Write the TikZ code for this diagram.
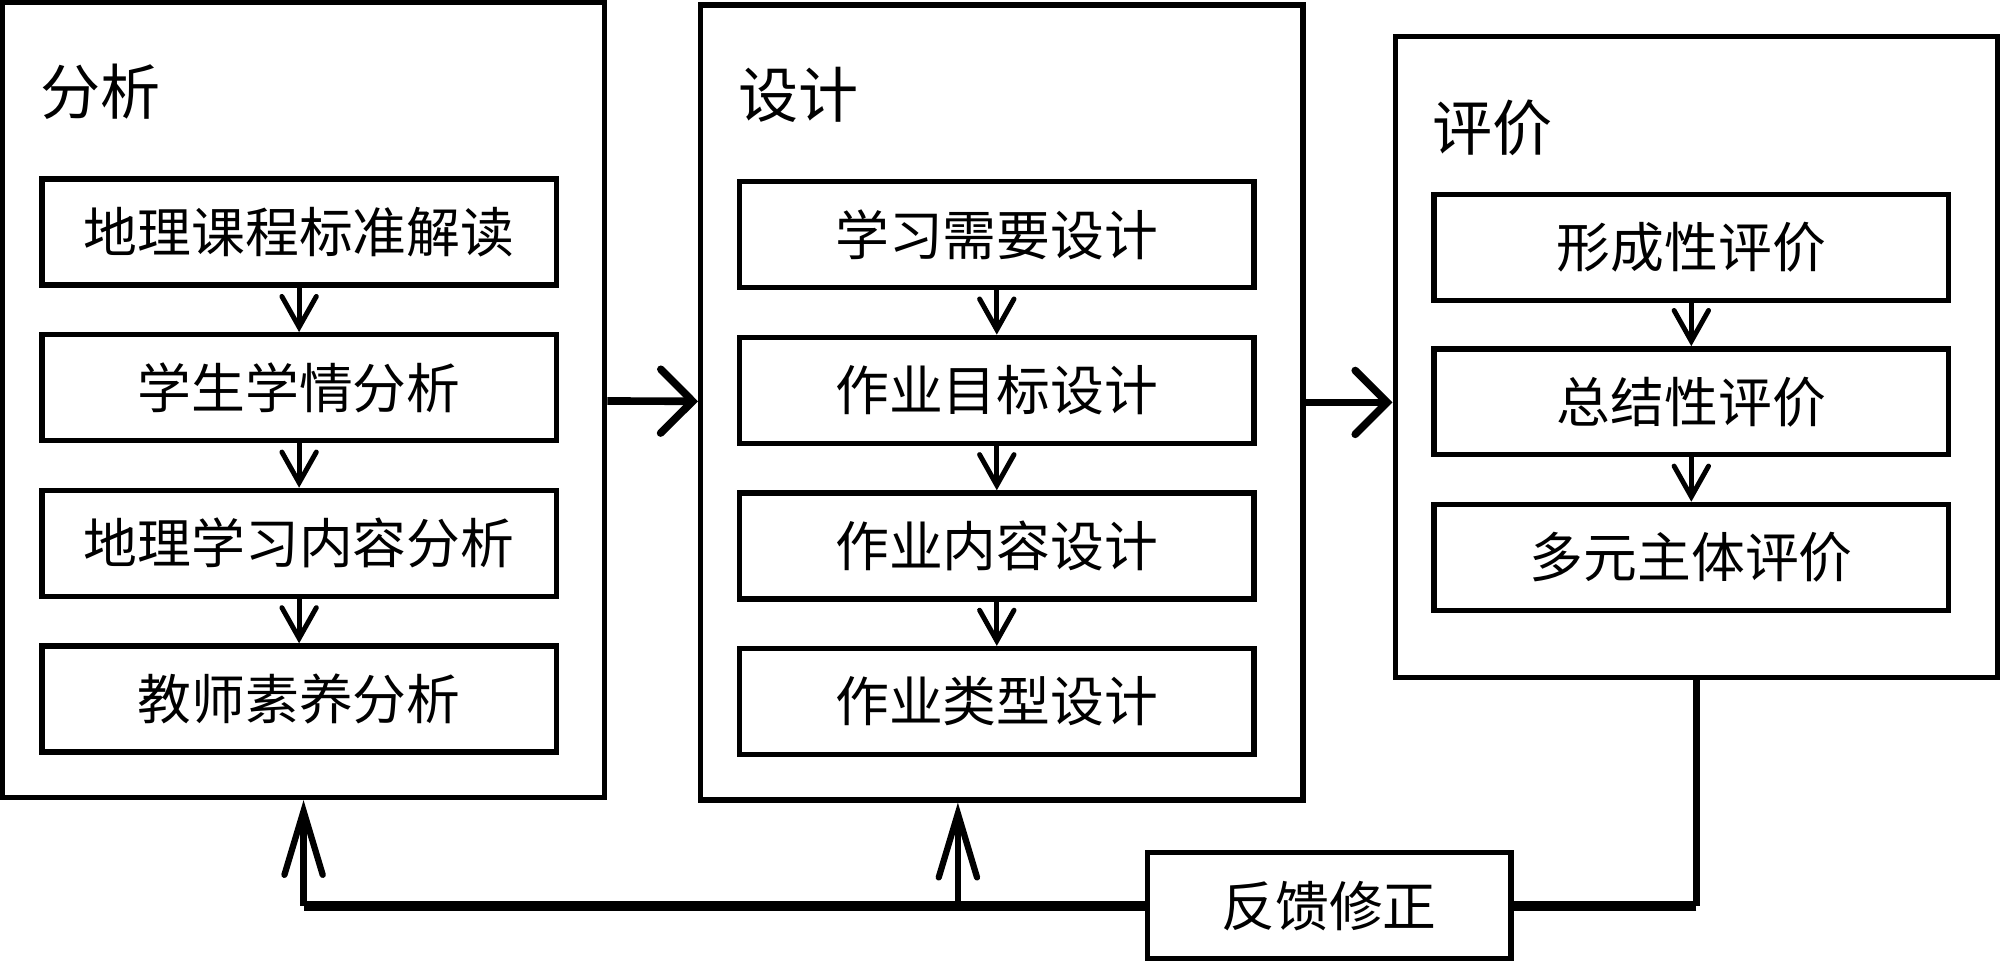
\documentclass[tikz,border=0pt]{standalone}
\usepackage{fontspec}
\setmainfont{Noto Sans CJK SC}
\usetikzlibrary{arrows.meta}

\tikzset{
  stage/.style={draw, line width=1.2pt, minimum width=4.72cm, inner sep=0pt},
  item/.style={draw, line width=1.2pt, minimum width=4.03cm, minimum height=0.83cm,
    inner sep=0pt, font=\fontsize{12}{14}\selectfont},
  title/.style={anchor=west, inner sep=0pt, font=\fontsize{13.4}{16}\selectfont},
  down/.style={line width=1.1pt, -{Straight Barb[length=0.24cm, width=0.27cm, line cap=round]}},
  next/.style={line width=1.7pt, -{Straight Barb[length=0.25cm, width=0.5cm, line cap=round]}},
  back/.style={line width=1.4pt, -{Straight Barb[length=0.5cm, width=0.3cm, line cap=round]}},
  loop/.style={line width=2.2pt}
}

\begin{document}
\begin{tikzpicture}[x=0.01cm, y=-0.01cm]
  \useasboundingbox (0,0) rectangle (1568,755);

  % three stages
  \node[stage, minimum height=6.23cm] (ana) at (238,313.5) {};
  \node[stage, minimum height=6.23cm] (des) at (785.5,315.5) {};
  \node[stage, minimum height=5.02cm] (eva) at (1330,280) {};
  \node[title] (ana-t) at (31,72) {分析};
  \node[title] (des-t) at (578,74) {设计};
  \node[title] (eva-t) at (1122,100) {评价};

  % analysis
  \node[item] (a1) at (234.5,182) {地理课程标准解读};
  \node[item] (a2) at (234.5,304) {学生学情分析};
  \node[item] (a3) at (234.5,426) {地理学习内容分析};
  \node[item] (a4) at (234.5,548) {教师素养分析};
  \draw[down] (a1) -- (a2);
  \draw[down] (a2) -- (a3);
  \draw[down] (a3) -- (a4);

  % design
  \node[item] (d1) at (781.5,184) {学习需要设计};
  \node[item] (d2) at (781.5,306) {作业目标设计};
  \node[item] (d3) at (781.5,428) {作业内容设计};
  \node[item] (d4) at (781.5,550) {作业类型设计};
  \draw[down] (d1) -- (d2);
  \draw[down] (d2) -- (d3);
  \draw[down] (d3) -- (d4);

  % evaluation
  \node[item] (e1) at (1326,194) {形成性评价};
  \node[item] (e2) at (1326,315) {总结性评价};
  \node[item] (e3) at (1326,437) {多元主体评价};
  \draw[down] (e1) -- (e2);
  \draw[down] (e2) -- (e3);

  \draw[next] (ana) -- (des);
  \draw[next] (des.east) -- (eva.west |- des.east);

  % feedback
  \node[item, minimum width=2.85cm] (fb) at (1042,710) {反馈修正};
  \coordinate (des-b) at ([xshift=-0.345cm]des.south);
  \coordinate (fb-r) at (eva.south |- fb.east);
  \coordinate (fb-a) at (ana.south |- fb.west);
  \coordinate (fb-d) at (des-b |- fb.west);
  \draw[line width=1.4pt] (eva.south) -- (fb-r);
  \draw[loop] (fb-r) -- (fb.east);
  \draw[loop] (fb.west) -- (fb-a);
  \draw[back] (fb-a) -- (ana.south);
  \draw[back] (fb-d) -- (des-b);
\end{tikzpicture}
\end{document}
